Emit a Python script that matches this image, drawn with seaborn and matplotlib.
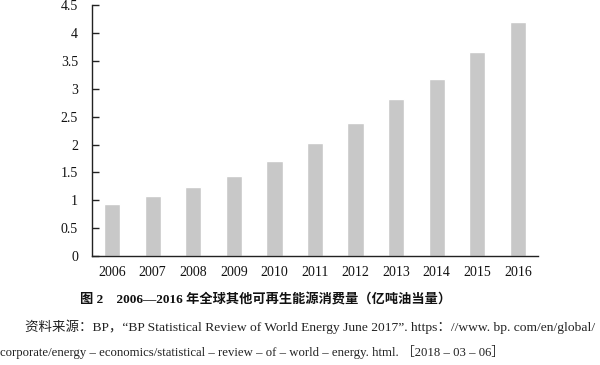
import matplotlib
matplotlib.use("Agg")
import matplotlib.pyplot as plt
import seaborn as sns
import pandas as pd
from matplotlib.ticker import FuncFormatter, FixedLocator

years = ["2006", "2007", "2008", "2009", "2010", "2011", "2012", "2013", "2014", "2015", "2016"]
values = [0.93, 1.07, 1.23, 1.44, 1.70, 2.03, 2.38, 2.81, 3.17, 3.66, 4.20]
y_ticks = [0, 0.5, 1, 1.5, 2, 2.5, 3, 3.5, 4, 4.5]

title = "图 2　2006—2016 年全球其他可再生能源消费量（亿吨油当量）"
source1 = "资料来源：BP，“BP Statistical Review of World Energy June 2017”. https：//www. bp. com/en/global/"
source2 = "corporate/energy – economics/statistical – review – of – world – energy. html. ［2018 – 03 – 06］"

sns.set_theme(style="white")
plt.rcParams["font.family"] = ["Liberation Serif", "Noto Sans CJK SC"]

df = pd.DataFrame({"year": years, "value": values})

fig = plt.figure(figsize=(6, 3.65), dpi=100)
ax = fig.add_axes([0.153, 0.2986, 0.744, 0.687])
sns.barplot(data=df, x="year", y="value", color="#c8c8c8", saturation=1, width=0.4, ax=ax)

ax.set_xlim(-0.5, len(years) - 0.5)
ax.set_ylim(0, 4.5)
ax.yaxis.set_major_locator(FixedLocator(y_ticks))
ax.yaxis.set_major_formatter(FuncFormatter(lambda v, p: f"{v:g}"))
ax.set_xlabel("")
ax.set_ylabel("")

for s in ["top", "right"]:
    ax.spines[s].set_visible(False)
for s in ["left", "bottom"]:
    ax.spines[s].set_color("#222222")
    ax.spines[s].set_linewidth(1.0)

ax.tick_params(axis="x", which="major", length=0, labelsize=10, colors="#111111", pad=7)
ax.xaxis.set_minor_locator(FixedLocator([i + 0.5 for i in range(len(years))]))
ax.tick_params(axis="x", which="minor", direction="in", length=5, width=1, color="#222222")
ax.tick_params(axis="y", which="major", direction="in", length=5, width=1, color="#222222",
               labelsize=10, labelcolor="#111111", pad=10, left=True)

fig.text(0.133, 1 - 300 / 365, title, fontsize=9.5, fontweight="bold", ha="left", va="center",
         color="#111111")
fig.text(0.042, 1 - 327 / 365, source1, fontsize=9.7, ha="left", va="center", color="#222222")
fig.text(0.0, 1 - 352 / 365, source2, fontsize=9.2, ha="left", va="center", color="#222222")

fig.savefig("out.png", dpi=100)
